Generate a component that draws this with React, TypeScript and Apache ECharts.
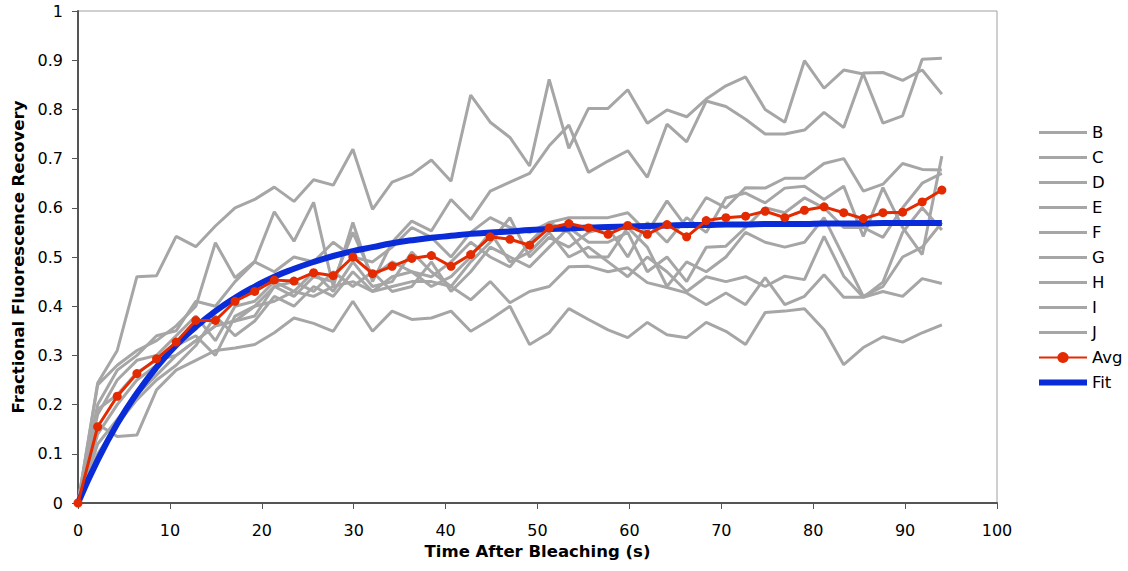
import React, { useEffect, useRef } from "react";
import * as echarts from "echarts";

const times = [0, 2.14, 4.27, 6.41, 8.55, 10.68, 12.82, 14.95, 17.09, 19.23, 21.36, 23.5, 25.64, 27.77, 29.91, 32.05, 34.18, 36.32, 38.45, 40.59, 42.73, 44.86, 47.0, 49.14, 51.27, 53.41, 55.55, 57.68, 59.82, 61.95, 64.09, 66.23, 68.36, 70.5, 72.64, 74.77, 76.91, 79.05, 81.18, 83.32, 85.45, 87.59, 89.73, 91.86, 94.0];

const seriesB = [0, 0.244, 0.31, 0.46, 0.462, 0.542, 0.521, 0.563, 0.6, 0.617, 0.642, 0.613, 0.657, 0.646, 0.719, 0.597, 0.652, 0.668, 0.697, 0.654, 0.829, 0.774, 0.743, 0.685, 0.861, 0.721, 0.802, 0.802, 0.84, 0.772, 0.799, 0.785, 0.821, 0.848, 0.866, 0.8, 0.774, 0.899, 0.843, 0.88, 0.872, 0.772, 0.787, 0.902, 0.904];
const seriesC = [0, 0.24, 0.28, 0.31, 0.33, 0.36, 0.4, 0.529, 0.458, 0.491, 0.592, 0.532, 0.611, 0.44, 0.57, 0.45, 0.53, 0.573, 0.553, 0.617, 0.576, 0.634, 0.652, 0.67, 0.726, 0.768, 0.672, 0.695, 0.716, 0.662, 0.77, 0.734, 0.817, 0.806, 0.78, 0.75, 0.75, 0.758, 0.794, 0.763, 0.874, 0.875, 0.859, 0.88, 0.831];
const seriesD = [0, 0.2, 0.27, 0.3, 0.34, 0.35, 0.41, 0.4, 0.45, 0.49, 0.47, 0.5, 0.49, 0.53, 0.5, 0.49, 0.52, 0.56, 0.54, 0.5, 0.55, 0.58, 0.56, 0.55, 0.57, 0.58, 0.58, 0.58, 0.59, 0.55, 0.614, 0.56, 0.621, 0.6, 0.641, 0.64, 0.66, 0.66, 0.69, 0.7, 0.634, 0.648, 0.69, 0.678, 0.677];
const seriesE = [0, 0.18, 0.25, 0.29, 0.3, 0.34, 0.38, 0.33, 0.4, 0.41, 0.45, 0.43, 0.47, 0.43, 0.49, 0.44, 0.45, 0.51, 0.47, 0.44, 0.49, 0.53, 0.58, 0.5, 0.54, 0.52, 0.55, 0.56, 0.5, 0.57, 0.53, 0.58, 0.55, 0.62, 0.63, 0.61, 0.64, 0.644, 0.617, 0.644, 0.542, 0.641, 0.56, 0.505, 0.705];
const seriesF = [0, 0.14, 0.2, 0.25, 0.28, 0.32, 0.34, 0.3, 0.38, 0.4, 0.44, 0.45, 0.43, 0.47, 0.44, 0.47, 0.43, 0.44, 0.49, 0.43, 0.47, 0.52, 0.5, 0.48, 0.52, 0.56, 0.53, 0.53, 0.55, 0.47, 0.5, 0.45, 0.52, 0.522, 0.56, 0.6, 0.59, 0.62, 0.6, 0.56, 0.56, 0.54, 0.6, 0.65, 0.67];
const seriesG = [0, 0.12, 0.17, 0.22, 0.26, 0.3, 0.33, 0.36, 0.37, 0.38, 0.44, 0.42, 0.46, 0.45, 0.55, 0.46, 0.49, 0.47, 0.46, 0.49, 0.53, 0.5, 0.48, 0.53, 0.57, 0.55, 0.5, 0.5, 0.56, 0.52, 0.44, 0.49, 0.47, 0.5, 0.55, 0.53, 0.52, 0.53, 0.58, 0.5, 0.42, 0.44, 0.5, 0.52, 0.57];
const seriesH = [0, 0.1, 0.16, 0.21, 0.25, 0.28, 0.32, 0.38, 0.34, 0.37, 0.42, 0.4, 0.44, 0.42, 0.47, 0.43, 0.46, 0.47, 0.44, 0.46, 0.5, 0.55, 0.49, 0.51, 0.55, 0.5, 0.52, 0.49, 0.46, 0.5, 0.47, 0.43, 0.46, 0.45, 0.46, 0.44, 0.461, 0.454, 0.542, 0.461, 0.418, 0.449, 0.55, 0.6, 0.555];
const seriesI = [0, 0.19, 0.22, 0.265, 0.29, 0.3, 0.33, 0.36, 0.37, 0.4, 0.41, 0.43, 0.42, 0.44, 0.45, 0.43, 0.44, 0.45, 0.45, 0.44, 0.413, 0.45, 0.407, 0.43, 0.44, 0.48, 0.481, 0.47, 0.478, 0.448, 0.438, 0.427, 0.403, 0.427, 0.403, 0.458, 0.403, 0.42, 0.464, 0.418, 0.418, 0.43, 0.42, 0.456, 0.446];
const seriesJ = [0, 0.16, 0.135, 0.138, 0.23, 0.27, 0.29, 0.31, 0.315, 0.322, 0.346, 0.376, 0.365, 0.349, 0.41, 0.349, 0.39, 0.373, 0.376, 0.39, 0.349, 0.373, 0.4, 0.322, 0.346, 0.395, 0.373, 0.352, 0.336, 0.367, 0.342, 0.336, 0.367, 0.349, 0.322, 0.387, 0.39, 0.395, 0.352, 0.281, 0.316, 0.338, 0.327, 0.346, 0.362];
const avgValues = [0, 0.155, 0.217, 0.263, 0.293, 0.327, 0.371, 0.371, 0.41, 0.43, 0.453, 0.451, 0.468, 0.462, 0.5, 0.466, 0.481, 0.497, 0.503, 0.481, 0.505, 0.541, 0.536, 0.524, 0.559, 0.568, 0.559, 0.546, 0.564, 0.546, 0.566, 0.541, 0.574, 0.58, 0.583, 0.593, 0.58, 0.595, 0.602, 0.59, 0.578, 0.59, 0.591, 0.612, 0.636];
const fitValues = [0, 0.087, 0.161, 0.223, 0.276, 0.321, 0.358, 0.39, 0.417, 0.44, 0.46, 0.476, 0.49, 0.502, 0.512, 0.52, 0.528, 0.534, 0.539, 0.543, 0.547, 0.55, 0.552, 0.555, 0.557, 0.558, 0.56, 0.561, 0.562, 0.563, 0.564, 0.565, 0.565, 0.566, 0.566, 0.567, 0.567, 0.567, 0.568, 0.568, 0.568, 0.569, 0.569, 0.569, 0.569];

const greyNames = ["B", "C", "D", "E", "F", "G", "H", "I", "J"];
const greyValues = [seriesB, seriesC, seriesD, seriesE, seriesF, seriesG, seriesH, seriesI, seriesJ];
const xTicks = { min: 0, max: 100, interval: 10 };
const yTicks = { min: 0, max: 1, interval: 0.1 };

const FONT = "'DejaVu Sans', Verdana, sans-serif";
const GREY = "#a6a6a6";
const RED = "#e32a00";
const BLUE = "#0a2bd8";

function pairs(vals: number[]) {
  return vals.map((v, i) => [times[i], v]);
}

export default function App() {
  const ref = useRef<HTMLDivElement>(null);
  useEffect(() => {
    if (!ref.current) return;
    const chart = echarts.init(ref.current, null, { renderer: "svg" });
    const greySeries = greyNames.map((name, k) => ({
      name,
      type: "line",
      data: pairs(greyValues[k]),
      showSymbol: false,
      symbol: "none",
      lineStyle: { color: GREY, width: 3 },
      itemStyle: { color: GREY },
      z: 2,
    }));
    const legendData = [
      ...greyNames.map((name) => ({
        name,
        icon: "path://M0,0H47V3H0Z",
        itemStyle: { color: GREY, borderWidth: 0 },
      })),
      { name: "Avg" },
      {
        name: "Fit",
        icon: "path://M0,0H50V6H0Z",
        itemStyle: { color: BLUE, borderWidth: 0 },
      },
    ];
    chart.setOption({
      animation: false,
      textStyle: { fontFamily: FONT },
      grid: {
        left: 78,
        right: 131,
        top: 11,
        bottom: 68,
        show: true,
        borderColor: "#a0a0a0",
        borderWidth: 1,
        backgroundColor: "#ffffff",
      },
      legend: {
        orient: "vertical",
        left: 1033,
        top: 119,
        itemWidth: 48,
        itemHeight: 14,
        itemGap: 8,
        data: legendData,
        textStyle: { fontFamily: FONT, fontSize: 16.5, color: "#000" },
      },
      xAxis: {
        type: "value",
        min: xTicks.min,
        max: xTicks.max,
        interval: xTicks.interval,
        name: "Time After Bleaching (s)",
        nameLocation: "middle",
        nameGap: 40,
        nameTextStyle: { fontFamily: FONT, fontSize: 16.5, fontWeight: "bold", color: "#000" },
        axisLine: { lineStyle: { color: "#555", width: 2 } },
        axisTick: { show: true, length: 6, lineStyle: { color: "#555" } },
        axisLabel: { fontFamily: FONT, fontSize: 16, color: "#000", margin: 19 },
        splitLine: { show: false },
      },
      yAxis: {
        type: "value",
        min: yTicks.min,
        max: yTicks.max,
        interval: yTicks.interval,
        name: "Fractional Fluorescence Recovery",
        nameLocation: "middle",
        nameGap: 49,
        nameRotate: 90,
        nameTextStyle: { fontFamily: FONT, fontSize: 16.5, fontWeight: "bold", color: "#000" },
        axisLine: { show: true, lineStyle: { color: "#555", width: 2 } },
        axisTick: { show: true, length: 6, lineStyle: { color: "#555" } },
        axisLabel: { fontFamily: FONT, fontSize: 16, color: "#000", margin: 15 },
        splitLine: { show: false },
      },
      series: [
        ...greySeries,
        {
          name: "Fit",
          type: "line",
          data: pairs(fitValues),
          showSymbol: false,
          symbol: "none",
          smooth: true,
          lineStyle: { color: BLUE, width: 6 },
          itemStyle: { color: BLUE },
          z: 3,
        },
        {
          name: "Avg",
          type: "line",
          data: pairs(avgValues),
          symbol: "circle",
          symbolSize: 9,
          showSymbol: true,
          lineStyle: { color: RED, width: 3 },
          itemStyle: { color: RED },
          z: 4,
        },
      ],
    });
    return () => chart.dispose();
  }, []);
  return (
    <div
      ref={ref}
      style={{ position: "absolute", left: 0, top: 0, width: 1128, height: 571, background: "#fff" }}
    />
  );
}
